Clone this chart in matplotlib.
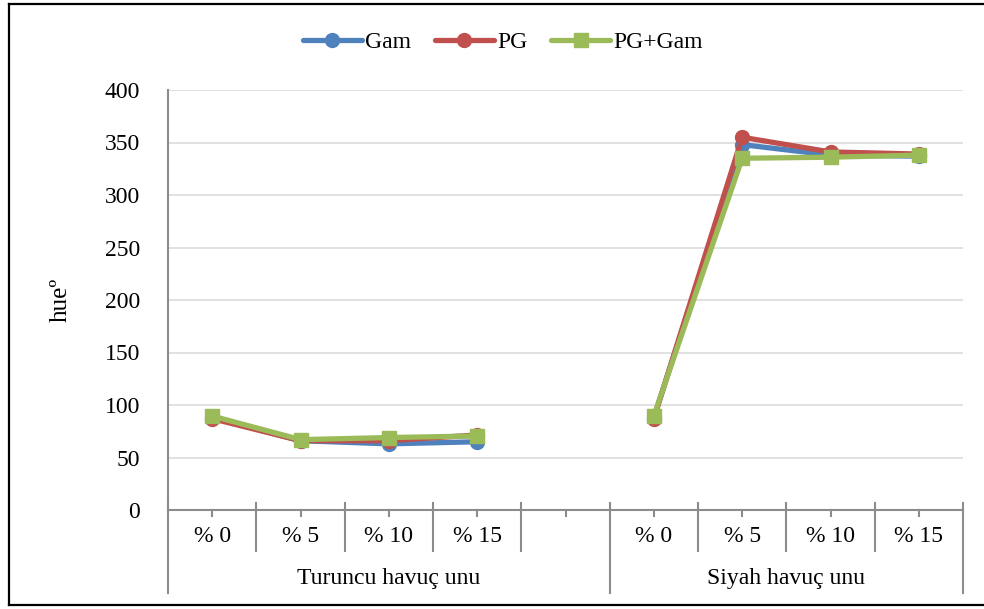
import numpy as np
import matplotlib.pyplot as plt
from matplotlib.lines import Line2D
import matplotlib.transforms as mtransforms

plt.rcParams['font.family'] = ['Liberation Serif', 'DejaVu Serif']

# Categories: two flour groups, with an empty slot between them
cat_labels = ['% 0', '% 5', '% 10', '% 15', '', '% 0', '% 5', '% 10', '% 15']
groups = ['Turuncu havuç unu', 'Siyah havuç unu']
group_spans = [(0, 5), (5, 9)]  # category index ranges [start, end)

gam = [88, 66, 63, 65, np.nan, 88, 348, 338, 337]
pg = [87, 66, 66, 71.5, np.nan, 87, 355, 341, 339]
pg_gam = [89.5, 67, 69, 70.5, np.nan, 89.5, 335, 336, 338]

series = [
    ('Gam', gam, '#4f81bd', 'o'),
    ('PG', pg, '#c0504d', 'o'),
    ('PG+Gam', pg_gam, '#9bbb59', 's'),
]

FS = 17

fig = plt.figure(figsize=(9.84, 6.09), dpi=100)
ax = fig.add_axes([168 / 984, 1 - 510 / 609, (963 - 168) / 984, 420 / 609])

x = np.arange(len(cat_labels))
for name, vals, color, marker in series:
    ax.plot(x, vals, color=color, lw=3.8, marker=marker, ms=10,
            label=name, solid_capstyle='round', solid_joinstyle='round')

ax.set_xlim(-0.5, len(cat_labels) - 0.5)
ax.set_ylim(0, 400)
ax.set_yticks(np.arange(0, 401, 50))
ax.tick_params(axis='y', length=0, pad=20, labelsize=FS)
ax.set_xticks([])
ax.grid(axis='y', color='#d9d9d9', lw=1.1)
ax.set_axisbelow(True)
for s in ['top', 'right']:
    ax.spines[s].set_visible(False)
for s in ['left', 'bottom']:
    ax.spines[s].set_color('#8c8c8c')
    ax.spines[s].set_linewidth(1.5)

ax.set_ylabel('hueº', fontsize=18, labelpad=24)

# Multi-level category axis drawn beneath the plot area
trans = mtransforms.blended_transform_factory(ax.transData, ax.transAxes)
line_kw = dict(color='#8c8c8c', lw=1.5, transform=trans, clip_on=False)

for xi in x:
    ax.add_line(Line2D([xi, xi], [0, -0.015], **line_kw))
    ax.text(xi, -0.064, cat_labels[xi], transform=trans, ha='center',
            va='center', fontsize=FS)

edges = np.arange(len(cat_labels) + 1) - 0.5
group_edges = {group_spans[0][0] - 0.5, group_spans[0][1] - 0.5,
               group_spans[1][1] - 0.5}
for e in edges:
    bottom = -0.198 if e in group_edges else -0.098
    ax.add_line(Line2D([e, e], [0.017, bottom], **line_kw))

for name, (a, b) in zip(groups, group_spans):
    ax.text((a + b - 1) / 2, -0.164, name, transform=trans, ha='center',
            va='center', fontsize=FS)

fig.legend(loc='center', bbox_to_anchor=(503 / 984, 1 - 42 / 609), ncol=3,
           frameon=False, fontsize=FS, handlelength=2.5, handletextpad=0.15,
           columnspacing=1.0)

# Outer frame
frame_kw = dict(color='black', lw=1.6, transform=fig.transFigure)
fig.add_artist(Line2D([8.5 / 984, 8.5 / 984], [1 - 605 / 609, 1 - 4 / 609], **frame_kw))
fig.add_artist(Line2D([8.5 / 984, 1.01], [1 - 4 / 609, 1 - 4 / 609], **frame_kw))
fig.add_artist(Line2D([8.5 / 984, 1.01], [1 - 605 / 609, 1 - 605 / 609], **frame_kw))

fig.savefig('out.png', dpi=100)
